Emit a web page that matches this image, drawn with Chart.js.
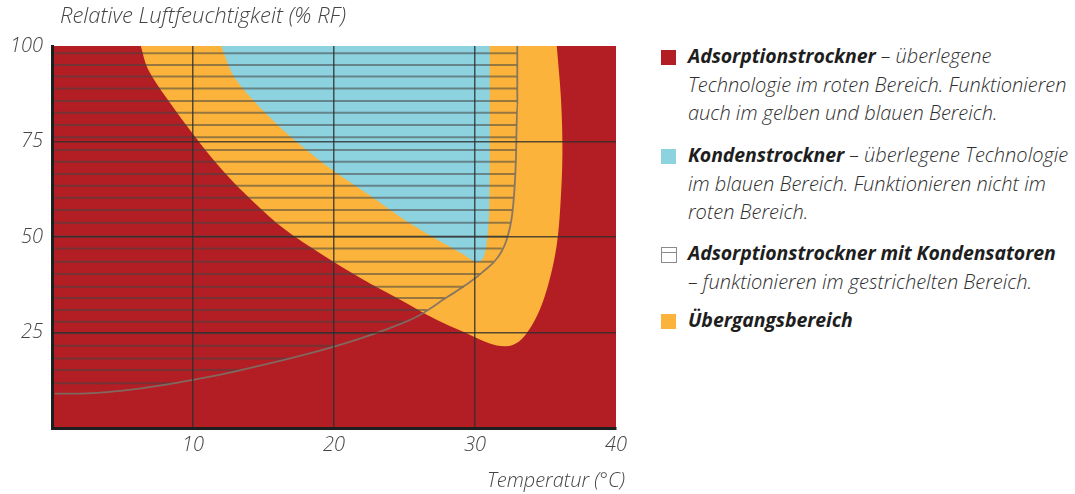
<!DOCTYPE html>
<html>
<head>
<meta charset="utf-8">
<script src="https://cdn.jsdelivr.net/npm/chart.js@4.4.1/dist/chart.umd.min.js"></script>
<style>
  html, body { margin: 0; padding: 0; background: #fff; }
  #wrap { position: relative; width: 1075px; height: 494px; overflow: hidden; }
  #box { position: absolute; left: 0; top: 0; width: 640px; height: 494px; }
  #legend { position: absolute; left: 661px; top: 0; width: 414px; height: 494px;
    font-family: "Open Sans", sans-serif; font-style: italic; font-weight: 300;
    font-size: 20px; line-height: 28.7px; color: #2e2e2e; }
  .item { position: absolute; left: 0; }
  .item b { font-weight: 700; color: #1e1e1e; font-size: 19.5px; letter-spacing: -0.1px; }
  .txt { margin-left: 27px; white-space: nowrap; }
  .sw { position: absolute; left: 0; top: 8px; width: 15px; height: 15px; }
  .hatch { box-sizing: border-box; border: 1.5px solid #8a8a8a; height: 16px; width: 16px; }
  .hatch::after { content: ""; position: absolute; left: 0; right: 0; top: 4px; border-top: 1.5px solid #8a8a8a; }
</style>
</head>
<body>
<div id="wrap">
  <div id="box"><canvas id="chart"></canvas></div>
  <div id="legend">
    <div class="item" style="top:42px">
      <span class="sw" style="background:#b21e24"></span>
      <div class="txt"><b>Adsorptionstrockner</b> – überlegene<br>Technologie im roten Bereich. Funktionieren<br>auch im gelben und blauen Bereich.</div>
    </div>
    <div class="item" style="top:141px">
      <span class="sw" style="background:#8dd2df"></span>
      <div class="txt"><b>Kondenstrockner</b> – überlegene Technologie<br>im blauen Bereich. Funktionieren nicht im<br>roten Bereich.</div>
    </div>
    <div class="item" style="top:239px">
      <span class="sw hatch"></span>
      <div class="txt"><b>Adsorptionstrockner mit Kondensatoren</b><br>– funktionieren im gestrichelten Bereich.</div>
    </div>
    <div class="item" style="top:306px">
      <span class="sw" style="background:#fbb33b"></span>
      <div class="txt"><b>Übergangsbereich</b></div>
    </div>
  </div>
</div>
<script>
// axis ticks
const xTicks = [10, 20, 30, 40];
const yTicks = [25, 50, 75, 100];

// whole plot (red = Adsorptionstrockner)
const redX = [0, 40, 40, 0];
const redY = [0, 0, 100, 100];

// yellow transition band
const yellowX = [6.3, 6.8, 8.2, 10.2, 12.2, 14.2, 16.5, 19.2, 22.0, 24.7, 27.2, 29.4, 31.0, 32.2, 33.1, 33.8, 34.6, 35.3, 35.8, 36.05, 36.2, 36.1, 35.8];
const yellowY = [100, 94, 86, 76, 67, 59.5, 52, 45.3, 39, 33.6, 28.5, 24.8, 22.2, 21.4, 22.6, 25.5, 31, 39, 48, 58, 72, 86, 100];

// blue (Kondenstrockner)
const blueX = [12.0, 12.9, 14.6, 17.0, 19.9, 22.5, 24.8, 27.1, 29.1, 30.1, 30.6, 30.85, 31.0, 31.05, 31.05];
const blueY = [100, 92, 84.5, 76, 67.5, 61, 55, 49.8, 45.6, 43.4, 44.6, 49, 56, 70, 100];

// lower boundary of the hatched area (Kondensatoren)
const curveX = [0.2, 2, 5, 8, 10, 12.6, 15.2, 18, 20, 22, 24, 26, 28, 29.5, 30.6, 31.6, 32.3, 32.7, 32.9, 33, 33];
const curveY = [9.0, 9.0, 9.8, 11.3, 12.6, 14.5, 16.7, 19.3, 21.3, 23.6, 26.2, 29.4, 34.2, 37.8, 41, 44.6, 50, 58, 70, 85, 100];

// hatch lines: level and right end
const hatchY = [11.7, 15.2, 18.2, 21.5, 24.8, 27.8, 30.9, 34.0, 37.0, 40.3, 43.5, 47.0, 50.1, 53.7, 57.1, 60.3, 63.4, 66.5, 69.7, 72.8, 76.1, 79.3, 82.5, 85.6, 88.9, 92.0, 95.0, 98.1];
const hatchEnd = [8.6, 13.4, 16.8, 20.2, 22.9, 25.0, 26.6, 27.9, 29.2, 30.4, 31.3, 31.9, 32.3, 32.5, 32.65, 32.74, 32.79, 32.84, 32.9, 32.92, 32.94, 32.96, 32.98, 33.0, 33.0, 33.0, 33.0, 33.0];

const pts = (xs, ys) => xs.map((x, i) => ({ x: x, y: ys[i] }));
const FONT = { family: '"Open Sans", sans-serif', style: 'italic', weight: 300, size: 20 };
const GRID = 'rgba(45,45,45,0.8)';

const datasets = [
  { data: pts(redX, redY), backgroundColor: '#b21e24', borderWidth: 0, fill: 'shape', pointRadius: 0, order: 50 },
  { data: pts(yellowX, yellowY), backgroundColor: '#fbb33b', borderWidth: 0, fill: 'shape', pointRadius: 0, tension: 0.35, order: 40 },
  { data: pts(blueX, blueY), backgroundColor: '#8dd2df', borderWidth: 0, fill: 'shape', pointRadius: 0, tension: 0.3, order: 30 }
];
hatchY.forEach((y, i) => {
  datasets.push({ data: [{ x: 0, y: y }, { x: hatchEnd[i], y: y }], borderColor: 'rgba(70,70,70,0.55)', borderWidth: 2, pointRadius: 0, fill: false, order: 20 });
});
datasets.push({ data: pts(curveX, curveY), borderColor: 'rgba(125,112,102,0.9)', borderWidth: 1.8, pointRadius: 0, fill: false, cubicInterpolationMode: 'monotone', order: 10 });

const titles = {
  id: 'titles',
  afterDraw(chart) {
    const c = chart.ctx, a = chart.chartArea;
    c.save();
    c.fillStyle = '#444';
    c.textBaseline = 'middle';
    c.textAlign = 'left';
    c.font = 'italic 300 22px "Open Sans", sans-serif';
    c.fillText('Relative Luftfeuchtigkeit (% RF)', a.left + 8, 17);
    c.textAlign = 'right';
    c.font = 'italic 300 20px "Open Sans", sans-serif';
    c.fillText('Temperatur (°C)', a.right + 9, 481);
    c.restore();
  }
};

new Chart(document.getElementById('chart'), {
  type: 'line',
  data: { datasets: datasets },
  plugins: [titles],
  options: {
    responsive: true,
    maintainAspectRatio: false,
    animation: false,
    layout: { padding: { top: 46, right: 24, left: 0, bottom: 0 } },
    plugins: { legend: { display: false }, tooltip: { enabled: false } },
    scales: {
      x: {
        type: 'linear', min: 0, max: 40,
        afterBuildTicks: s => { s.ticks = xTicks.map(v => ({ value: v })); },
        afterFit: s => { s.height = 66; },
        ticks: { font: FONT, color: '#444', padding: 5 },
        grid: { z: 1, drawTicks: false, lineWidth: 1.5, color: c => c.tick && c.tick.value < 40 ? GRID : 'rgba(0,0,0,0)' },
        border: { z: 2, color: '#1e1e1e', width: 3 }
      },
      y: {
        type: 'linear', min: 0, max: 100,
        afterBuildTicks: s => { s.ticks = yTicks.map(v => ({ value: v })); },
        afterFit: s => { s.width = 52; },
        ticks: { font: FONT, color: '#444', padding: 9 },
        grid: { z: 1, drawTicks: false, lineWidth: 1.5, color: c => c.tick && c.tick.value < 100 ? GRID : 'rgba(0,0,0,0)' },
        border: { z: 2, color: '#1e1e1e', width: 3 }
      }
    }
  }
});
</script>
</body>
</html>
